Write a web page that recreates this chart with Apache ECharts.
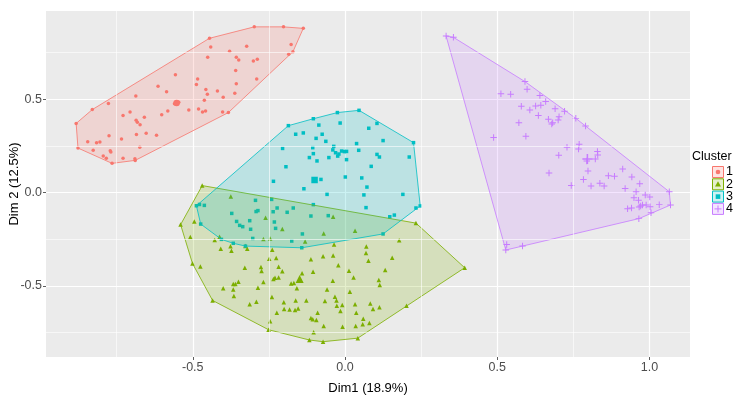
<!DOCTYPE html>
<html>
<head>
<meta charset="utf-8">
<script src="https://cdn.jsdelivr.net/npm/echarts@6/dist/echarts.min.js"></script>
<style>
  html, body { margin: 0; padding: 0; background: #fff; }
  #chart { width: 737px; height: 399px; }
</style>
</head>
<body>
<div id="chart"></div>
<script>
const clusterNames = ['1', '2', '3', '4']
const colors = ['#F8766D', '#7CAE00', '#00BFC4', '#C77CFF']

const cluster1 = [
  [-0.298, 0.888], [-0.202, 0.888], [-0.137, 0.880], [-0.445, 0.827], [-0.323, 0.784], [-0.441, 0.780],
  [-0.177, 0.793], [-0.171, 0.755], [-0.185, 0.741], [-0.379, 0.757], [-0.357, 0.725], [-0.349, 0.711],
  [-0.451, 0.725], [-0.301, 0.705], [-0.288, 0.714], [-0.359, 0.655], [-0.557, 0.632], [-0.484, 0.609],
  [-0.290, 0.609], [-0.488, 0.580], [-0.357, 0.584], [-0.614, 0.570], [-0.586, 0.541], [-0.457, 0.552],
  [-0.419, 0.545], [-0.452, 0.527], [-0.362, 0.532], [-0.400, 0.511], [-0.462, 0.495], [-0.777, 0.477],
  [-0.687, 0.518], [-0.546, 0.484], [-0.560, 0.476], [-0.830, 0.445], [-0.706, 0.432], [-0.729, 0.413],
  [-0.659, 0.404], [-0.686, 0.388], [-0.682, 0.377], [-0.673, 0.364], [-0.602, 0.418], [-0.582, 0.438],
  [-0.513, 0.443], [-0.481, 0.448], [-0.458, 0.438], [-0.468, 0.432], [-0.402, 0.432], [-0.383, 0.429],
  [-0.883, 0.371], [-0.845, 0.273], [-0.816, 0.268], [-0.805, 0.271], [-0.775, 0.305], [-0.734, 0.288],
  [-0.685, 0.311], [-0.653, 0.318], [-0.619, 0.307], [-0.877, 0.239], [-0.827, 0.227], [-0.771, 0.225],
  [-0.769, 0.218], [-0.674, 0.243], [-0.794, 0.196], [-0.784, 0.184], [-0.729, 0.184], [-0.690, 0.182],
  [-0.689, 0.173], [-0.765, 0.157]
]

const cluster2 = [
  [-0.469, 0.038], [-0.375, -0.020], [-0.540, -0.171], [-0.495, -0.155], [-0.261, -0.134], [-0.206, -0.195],
  [-0.131, -0.261], [-0.070, -0.218], [-0.508, -0.237], [-0.428, -0.254], [-0.412, -0.236], [-0.376, -0.287],
  [-0.408, -0.300], [-0.373, -0.311], [-0.327, -0.286], [-0.321, -0.300], [-0.268, -0.248], [-0.246, -0.246],
  [-0.239, -0.305], [-0.249, -0.354], [-0.226, -0.350], [-0.112, -0.357], [-0.072, -0.341], [-0.501, -0.379],
  [-0.475, -0.395], [-0.329, -0.402], [-0.276, -0.398], [-0.274, -0.420], [-0.218, -0.396], [-0.206, -0.421],
  [-0.141, -0.432], [-0.105, -0.423], [-0.230, -0.455], [-0.218, -0.454], [-0.235, -0.462], [-0.268, -0.478],
  [-0.350, -0.477], [-0.360, -0.489], [-0.367, -0.489], [-0.367, -0.518], [-0.400, -0.512], [-0.365, -0.553],
  [-0.286, -0.509], [-0.177, -0.486], [-0.168, -0.484], [-0.146, -0.468], [-0.158, -0.512], [-0.240, -0.559],
  [-0.201, -0.587], [-0.162, -0.577], [-0.127, -0.577], [-0.291, -0.584], [-0.313, -0.598], [-0.200, -0.623],
  [-0.182, -0.625], [-0.164, -0.628], [-0.154, -0.620], [-0.224, -0.643], [-0.090, -0.643], [-0.112, -0.671],
  [-0.106, -0.678], [-0.094, -0.682], [-0.070, -0.714], [-0.103, -0.748], [-0.246, -0.689], [-0.435, -0.577],
  [-0.251, -0.734], [-0.117, -0.789], [-0.072, -0.798],
  [-0.039, -0.129], [0.033, -0.204], [0.233, -0.163], [0.393, -0.402], [0.178, -0.255], [-0.036, -0.277],
  [0.070, -0.288], [0.069, -0.323], [0.077, -0.364], [0.155, -0.348], [-0.039, -0.336], [-0.022, -0.389],
  [0.013, -0.418], [0.132, -0.414], [0.028, -0.454], [0.111, -0.468], [0.114, -0.495], [-0.040, -0.471],
  [-0.059, -0.518], [0.016, -0.530], [-0.033, -0.557], [-0.028, -0.577], [-0.066, -0.580], [-0.027, -0.605],
  [-0.009, -0.602], [0.033, -0.598], [0.083, -0.593], [0.092, -0.623], [0.113, -0.613], [0.202, -0.605],
  [-0.015, -0.634], [0.037, -0.643], [0.060, -0.675], [0.080, -0.698], [0.058, -0.704], [0.035, -0.714],
  [-0.008, -0.718], [0.042, -0.779]
]

const cluster3 = [
  [-0.186, 0.359], [-0.104, 0.396], [-0.025, 0.429], [0.046, 0.441], [0.105, 0.371], [-0.016, 0.373],
  [-0.086, 0.362], [0.078, 0.345], [-0.137, 0.320], [-0.162, 0.313], [-0.075, 0.313], [-0.095, 0.291],
  [-0.063, 0.275], [0.125, 0.279], [0.225, 0.268], [0.038, 0.263], [-0.037, 0.248], [-0.106, 0.241],
  [-0.205, 0.237], [-0.040, 0.229], [-0.011, 0.223], [-0.002, 0.220], [0.005, 0.221], [0.045, 0.227],
  [-0.031, 0.214], [-0.020, 0.207], [-0.024, 0.196], [-0.104, 0.209], [-0.117, 0.188], [-0.092, 0.170],
  [-0.053, 0.188], [0.005, 0.177], [0.105, 0.205], [0.113, 0.191], [0.211, 0.191], [0.086, 0.141],
  [-0.194, 0.139], [0.001, 0.084], [0.055, 0.079], [-0.079, 0.071], [-0.235, 0.061], [0.072, 0.030],
  [-0.135, 0.021], [-0.059, -0.009], [0.062, -0.012], [0.190, -0.009], [-0.104, -0.064], [0.069, -0.080],
  [0.233, -0.082], [0.247, -0.071], [0.162, -0.120], [0.147, -0.129], [0.125, -0.221], [-0.142, -0.295],
  [-0.241, -0.036], [-0.294, -0.041], [-0.170, -0.082], [-0.223, -0.082], [-0.190, -0.105], [-0.236, -0.102],
  [-0.286, -0.096], [-0.292, -0.101], [-0.372, -0.111], [-0.112, -0.125], [-0.055, -0.123], [-0.313, -0.150],
  [-0.232, -0.157], [-0.356, -0.154], [-0.346, -0.175], [-0.336, -0.182], [-0.310, -0.196], [-0.228, -0.191],
  [-0.140, -0.221], [-0.303, -0.245], [-0.406, -0.250], [-0.367, -0.271], [-0.327, -0.286], [-0.175, -0.259],
  [-0.474, -0.168], [-0.488, -0.070], [-0.478, -0.063], [-0.462, -0.068]
]

const cluster4 = [
  [0.332, 0.839], [0.356, 0.832], [0.591, 0.595], [0.598, 0.554], [0.512, 0.530], [0.544, 0.527],
  [0.640, 0.520], [0.659, 0.488], [0.579, 0.463], [0.607, 0.443], [0.626, 0.464], [0.643, 0.468],
  [0.635, 0.413], [0.690, 0.450], [0.721, 0.436], [0.668, 0.393], [0.703, 0.407], [0.700, 0.389],
  [0.679, 0.368], [0.682, 0.375], [0.758, 0.398], [0.790, 0.357], [0.571, 0.375], [0.488, 0.296],
  [0.594, 0.302], [0.729, 0.243], [0.769, 0.259], [0.767, 0.234], [0.702, 0.200], [0.829, 0.220],
  [0.830, 0.202], [0.822, 0.180], [0.794, 0.170], [0.798, 0.116], [0.670, 0.105], [0.783, 0.071],
  [0.743, 0.039], [0.808, 0.036], [0.837, 0.050], [0.851, 0.036], [0.865, 0.091], [0.885, 0.088],
  [0.912, 0.127], [0.942, 0.084], [0.920, 0.023], [0.968, 0.048], [0.956, 0.005], [0.986, -0.013],
  [1.001, -0.023], [0.949, -0.027], [0.964, -0.041], [0.977, -0.066], [0.966, -0.077], [0.971, -0.071],
  [0.989, -0.066], [1.002, -0.075], [0.928, -0.086], [0.941, -0.082], [1.032, -0.064], [1.065, 0.005],
  [1.069, -0.066], [1.005, -0.107], [0.965, -0.139], [0.531, -0.277], [0.528, -0.307], [0.583, -0.286]
]

// cluster centres (drawn bigger)
const centers = [[-0.553, 0.480], [-0.149, -0.462], [-0.100, 0.068], [0.796, 0.180]]

const xTicks = [-0.5, 0, 0.5, 1]
const xMinor = [-0.75, -0.25, 0.25, 0.75]
const yTicks = [-0.5, 0, 0.5]
const yMinor = [-0.75, -0.25, 0.25, 0.75]

const clusters = [cluster1, cluster2, cluster3, cluster4]
const plusPath = 'path://M-1,-0.15L1,-0.15L1,0.15L-1,0.15Z M-0.15,-1L0.15,-1L0.15,1L-0.15,1Z'
const symbols = ['circle', 'triangle', 'rect', plusPath]
const sizes = [3.5, 4.5, 3.5, 6.5]
const centerSizes = [6.5, 8, 6.5, 10]
const FONT = '"Liberation Sans", Arial, sans-serif'

function hexA(hex, a) {
  const n = parseInt(hex.slice(1), 16)
  return `rgba(${n >> 16},${(n >> 8) & 255},${n & 255},${a})`
}

// convex hull (monotone chain)
function hull(points) {
  const p = points.slice().sort((a, b) => a[0] - b[0] || a[1] - b[1])
  const cross = (o, a, b) => (a[0] - o[0]) * (b[1] - o[1]) - (a[1] - o[1]) * (b[0] - o[0])
  const lower = []
  for (const pt of p) {
    while (lower.length >= 2 && cross(lower[lower.length - 2], lower[lower.length - 1], pt) <= 0) lower.pop()
    lower.push(pt)
  }
  const upper = []
  for (let i = p.length - 1; i >= 0; i--) {
    const pt = p[i]
    while (upper.length >= 2 && cross(upper[upper.length - 2], upper[upper.length - 1], pt) <= 0) upper.pop()
    upper.push(pt)
  }
  upper.pop()
  lower.pop()
  return lower.concat(upper)
}

const series = []

clusters.forEach((pts, i) => {
  const data = pts.map(p => p.slice())
  data.push({ value: centers[i], symbolSize: centerSizes[i] })
  series.push({
    type: 'scatter',
    name: clusterNames[i],
    z: 2,
    symbol: symbols[i],
    symbolSize: sizes[i],
    symbolKeepAspect: true,
    itemStyle: { color: colors[i], opacity: 1 },
    data
  })
})

// hulls go on top of the points, like ggplot does
clusters.forEach((pts, i) => {
  const h = hull(pts)
  series.push({
    type: 'custom',
    name: 'hull' + clusterNames[i],
    z: 3,
    silent: true,
    data: h,
    renderItem(params, api) {
      if (params.dataIndex !== 0) return null
      return {
        type: 'polygon',
        shape: { points: h.map(p => api.coord(p)) },
        style: { fill: hexA(colors[i], 0.2), stroke: colors[i], lineWidth: 0.8 }
      }
    }
  })
})

// minor grid lines
series.push({
  type: 'scatter',
  z: 1,
  silent: true,
  data: [],
  markLine: {
    silent: true,
    symbol: 'none',
    label: { show: false },
    lineStyle: { color: '#fff', width: 0.6, type: 'solid' },
    data: xMinor.map(v => ({ xAxis: v })).concat(yMinor.map(v => ({ yAxis: v })))
  }
})

// legend drawn by hand, ggplot style
const legend = [{
  type: 'text', left: 692, top: 150,
  style: { text: 'Cluster', font: '12.5px ' + FONT, fill: '#000' }
}]
clusterNames.forEach((name, i) => {
  const y = 166 + i * 12.3
  const cx = 718, cy = y + 6
  legend.push({
    type: 'rect', shape: { x: 712.5, y: y + 0.5, width: 11, height: 11 },
    style: { fill: hexA(colors[i], 0.2), stroke: colors[i], lineWidth: 1 }
  })
  let sym
  if (i === 0) sym = { type: 'circle', shape: { cx, cy, r: 2.3 }, style: { fill: colors[i] } }
  else if (i === 1) sym = { type: 'polygon', shape: { points: [[cx, cy - 3], [cx + 3, cy + 2.2], [cx - 3, cy + 2.2]] }, style: { fill: colors[i] } }
  else if (i === 2) sym = { type: 'rect', shape: { x: cx - 2.3, y: cy - 2.3, width: 4.6, height: 4.6 }, style: { fill: colors[i] } }
  else sym = { type: 'group', children: [
    { type: 'rect', shape: { x: cx - 3.5, y: cy - 0.5, width: 7, height: 1 }, style: { fill: colors[i] } },
    { type: 'rect', shape: { x: cx - 0.5, y: cy - 3.5, width: 1, height: 7 }, style: { fill: colors[i] } }
  ] }
  legend.push(sym)
  legend.push({
    type: 'text', left: 726, top: y - 0.5,
    style: { text: name, font: '12.5px ' + FONT, fill: '#000' }
  })
})

const chart = echarts.init(document.getElementById('chart'), null, { renderer: 'canvas' })
chart.setOption({
  animation: false,
  backgroundColor: '#fff',
  grid: {
    left: 46, right: 47, top: 11, bottom: 42,
    outerBoundsMode: 'none',
    show: true, backgroundColor: '#EBEBEB', borderWidth: 0
  },
  xAxis: {
    type: 'value',
    min: -0.982, max: 1.133,
    name: 'Dim1 (18.9%)',
    nameLocation: 'middle',
    nameGap: 25,
    nameMoveOverlap: false,
    nameTextStyle: { color: '#000', fontSize: 13, fontFamily: FONT },
    axisLine: { show: false, onZero: false },
    axisTick: { show: true, length: 3, customValues: xTicks, lineStyle: { color: '#333', width: 0.8 } },
    axisLabel: {
      customValues: xTicks, color: '#4D4D4D', fontSize: 12.5, fontFamily: FONT, margin: 4,
      formatter: v => v.toFixed(1)
    },
    splitLine: { show: true, lineStyle: { color: '#fff', width: 1.2 } }
  },
  yAxis: {
    type: 'value',
    min: -0.880, max: 0.973,
    name: 'Dim 2 (12.5%)',
    nameLocation: 'middle',
    nameGap: 25,
    nameRotate: 90,
    nameMoveOverlap: false,
    nameTextStyle: { color: '#000', fontSize: 13, fontFamily: FONT },
    axisLine: { show: false, onZero: false },
    axisTick: { show: true, length: 3, customValues: yTicks, lineStyle: { color: '#333', width: 0.8 } },
    axisLabel: {
      customValues: yTicks, color: '#4D4D4D', fontSize: 12.5, fontFamily: FONT, margin: 4,
      formatter: v => v.toFixed(1)
    },
    splitLine: { show: true, lineStyle: { color: '#fff', width: 1.2 } }
  },
  graphic: legend,
  series
})
</script>
</body>
</html>
